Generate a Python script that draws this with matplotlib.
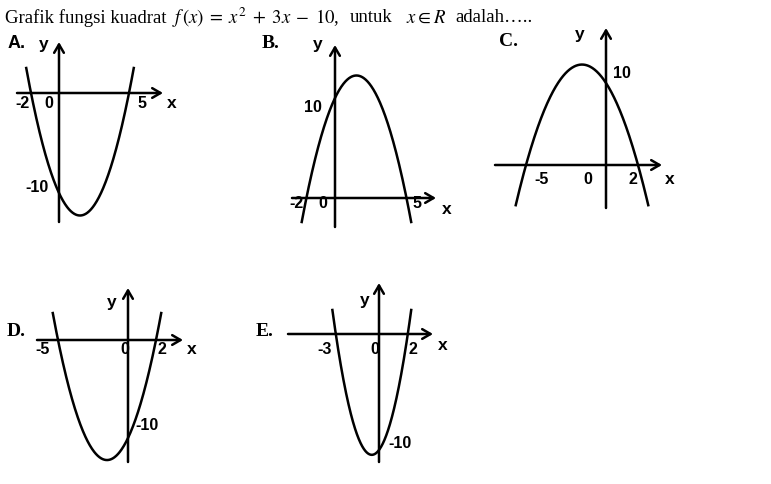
import numpy as np
import matplotlib
matplotlib.use("Agg")
import matplotlib.pyplot as plt

plt.rcParams['mathtext.fontset'] = 'stix'

W, H = 771, 484

# Data of the five sketches: y = a*(x - r1)*(x - r2)
panel_names = ['A.', 'B.', 'C.', 'D.', 'E.']
root_left = [-2, -2, -5, -5, -3]
root_right = [5, 5, 2, 2, 2]
lead_coef = [1, -1, -1, 1, 5 / 3]
curve_end_y = [2.5, -2.4, -4.9, 2.75, 2.07]   # height where the sketched curve stops

# axis labels written on each sketch
x_labels = [['-2', '0', '5'], ['-2', '0', '5'], ['-5', '0', '2'],
            ['-5', '0', '2'], ['-3', '0', '2']]
y_labels = ['-10', '10', '10', '-10', '-10']

# layout (pixels): origin, scale, axis extents, label spots
origin = [(59, 93), (335, 198), (606, 165), (128, 340), (379, 334)]
scale = [(14, 10), (14.3, 10), (16, 8.2), (14, 9.8), (14.4, 11.6)]
xaxis_px = [(17, 163), (292, 436), (495, 662), (37, 183), (288, 433)]
yaxis_px = [(222, 42), (227, 45), (208, 28), (462, 288), (462, 283)]
name_pos = [(17, 43), (271, 43), (508, 42), (16, 332), (265, 332)]
y_pos = [(44, 44), (318, 45), (580, 35), (112, 303), (365, 300)]
x_pos = [(172, 103), (447, 210), (670, 180), (192, 350), (443, 346)]
xlab_pos = [[(23, 103), (49, 103), (142, 103)],
            [(297, 204), (323, 204), (417, 204)],
            [(542, 180), (588, 180), (633, 180)],
            [(43, 350), (125, 350), (162, 350)],
            [(325, 350), (375, 350), (413, 350)]]
ylab_pos = [(37, 187), (313, 107), (622, 73), (147, 425), (400, 443)]

fig = plt.figure(figsize=(W / 100, H / 100), dpi=100)


def ftext(px, py, s, ha='center', **kw):
    fig.text(px / W, 1 - py / H, s, ha=ha, va='center', **kw)


serif = dict(family='Liberation Serif', size=13.5)
ftext(5, 18, 'Grafik fungsi kuadrat', ha='left', **serif)
ftext(172, 18, '$f\\,(x)\\; = \\;x^2 \\;+\\; 3x \\;-\\; 10$,', ha='left', **serif)
ftext(350, 18, 'untuk', ha='left', **serif)
ftext(406, 18, '$x \\in R$', ha='left', **serif)
ftext(455, 18, 'adalah…..', ha='left', **serif)

num_font = dict(family='Liberation Sans', weight='bold', size=11.5)

for i in range(5):
    ox, oy = origin[i]
    sx, sy = scale[i]
    ax = fig.add_axes([0, 0, 1, 1])
    ax.set_xlim(-ox / sx, (W - ox) / sx)
    ax.set_ylim((oy - H) / sy, oy / sy)
    ax.axis('off')

    a, r1, r2 = lead_coef[i], root_left[i], root_right[i]
    # where the curve reaches its end height
    b = -a * (r1 + r2)
    c = a * r1 * r2 - curve_end_y[i]
    disc = np.sqrt(b * b - 4 * a * c)
    xs = sorted([(-b - disc) / (2 * a), (-b + disc) / (2 * a)])
    x = np.linspace(xs[0], xs[1], 300)
    ax.plot(x, a * (x - r1) * (x - r2), color='black', lw=1.8)

    arrow = dict(arrowstyle='->,head_length=0.6,head_width=0.35', lw=1.8,
                 color='black', shrinkA=0, shrinkB=0)
    x0, x1 = [(p - ox) / sx for p in xaxis_px[i]]
    ax.annotate('', xy=(x1, 0), xytext=(x0, 0), arrowprops=arrow)
    y0, y1 = [(oy - p) / sy for p in yaxis_px[i]]
    ax.annotate('', xy=(0, y1), xytext=(0, y0), arrowprops=arrow)

    if i == 0:
        ftext(*name_pos[i], panel_names[i], family='Liberation Sans', weight='bold', size=13)
    else:
        ftext(*name_pos[i], panel_names[i], family='Liberation Serif', weight='bold', size=14)
    ftext(*y_pos[i], 'y', family='Liberation Sans', weight='bold', size=12.5)
    ftext(*x_pos[i], 'x', family='Liberation Sans', weight='bold', size=12.5)
    for s, p in zip(x_labels[i], xlab_pos[i]):
        ftext(*p, s, **num_font)
    ftext(*ylab_pos[i], y_labels[i], **num_font)

fig.savefig('out.png', dpi=100)
